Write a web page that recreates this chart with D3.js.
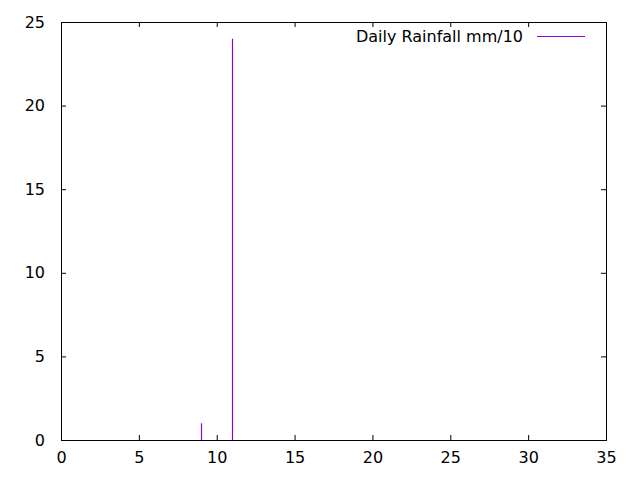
<!DOCTYPE html>
<html>
<head>
	<meta charset="utf-8">
	<script src="https://d3js.org/d3.v7.min.js"></script>
	<style>
	body{ margin:0; background:#fff; }
	</style>
</head>
<body>
<svg id="chart" width="640" height="480"></svg>
<script>
// rainfall per day (mm/10)
var days = [9, 11];
var rainfall = [1, 24];
var xTicks = [0, 5, 10, 15, 20, 25, 30, 35];
var yTicks = [0, 5, 10, 15, 20, 25];
var seriesName = "Daily Rainfall mm/10";

(function(){
	var svg = d3.select("#chart");
	var m = { left: 61, right: 606, top: 22, bottom: 440 };
	var tick = 5;
	var fontSize = "16px";

	var x = d3.scaleLinear().domain([0, 35]).range([m.left, m.right]);
	var y = d3.scaleLinear().domain([0, 25]).range([m.bottom, m.top]);

	function noDomain(g){ g.select(".domain").remove(); }

	// bottom axis with labels, top mirror
	svg.append("g")
		.attr("transform", "translate(0," + m.bottom + ")")
		.call(d3.axisBottom(x).tickValues(xTicks).tickSize(-tick).tickPadding(12))
		.call(noDomain);
	svg.append("g")
		.attr("transform", "translate(0," + m.top + ")")
		.call(d3.axisTop(x).tickValues(xTicks.slice(1, -1)).tickSize(-tick).tickFormat(""))
		.call(noDomain);

	// left axis with labels, right mirror
	svg.append("g")
		.attr("transform", "translate(" + m.left + ",0)")
		.call(d3.axisLeft(y).tickValues(yTicks).tickSize(-tick).tickPadding(16))
		.call(noDomain);
	svg.append("g")
		.attr("transform", "translate(" + m.right + ",0)")
		.call(d3.axisRight(y).tickValues(yTicks.slice(1, -1)).tickSize(-tick).tickFormat(""))
		.call(noDomain);

	svg.selectAll(".tick line").attr("stroke", "#000");

	// frame
	svg.append("rect")
		.attr("x", m.left + 0.5).attr("y", m.top + 0.5)
		.attr("width", m.right - m.left).attr("height", m.bottom - m.top)
		.attr("fill", "none").attr("stroke", "#000").attr("stroke-width", 1);

	// impulses
	svg.selectAll(".impulse")
		.data(days)
		.enter().append("line")
		.attr("class", "impulse")
		.attr("x1", function(d){ return Math.round(x(d)) + 0.5; })
		.attr("x2", function(d){ return Math.round(x(d)) + 0.5; })
		.attr("y1", y(0))
		.attr("y2", function(d, i){ return y(rainfall[i]); })
		.attr("stroke", "#9400d3")
		.attr("stroke-width", 1.2);

	// legend
	svg.append("text")
		.attr("x", 523).attr("y", 42)
		.attr("text-anchor", "end")
		.text(seriesName);
	svg.append("line")
		.attr("x1", 537).attr("x2", 585)
		.attr("y1", 36.5).attr("y2", 36.5)
		.attr("stroke", "#9400d3").attr("stroke-width", 1.2);

	svg.selectAll("text")
		.attr("font-family", "DejaVu Sans, sans-serif")
		.attr("font-size", fontSize)
		.attr("fill", "#000");
	svg.selectAll("g").attr("font-family", null).attr("font-size", null);
})();
</script>
</body>
</html>
